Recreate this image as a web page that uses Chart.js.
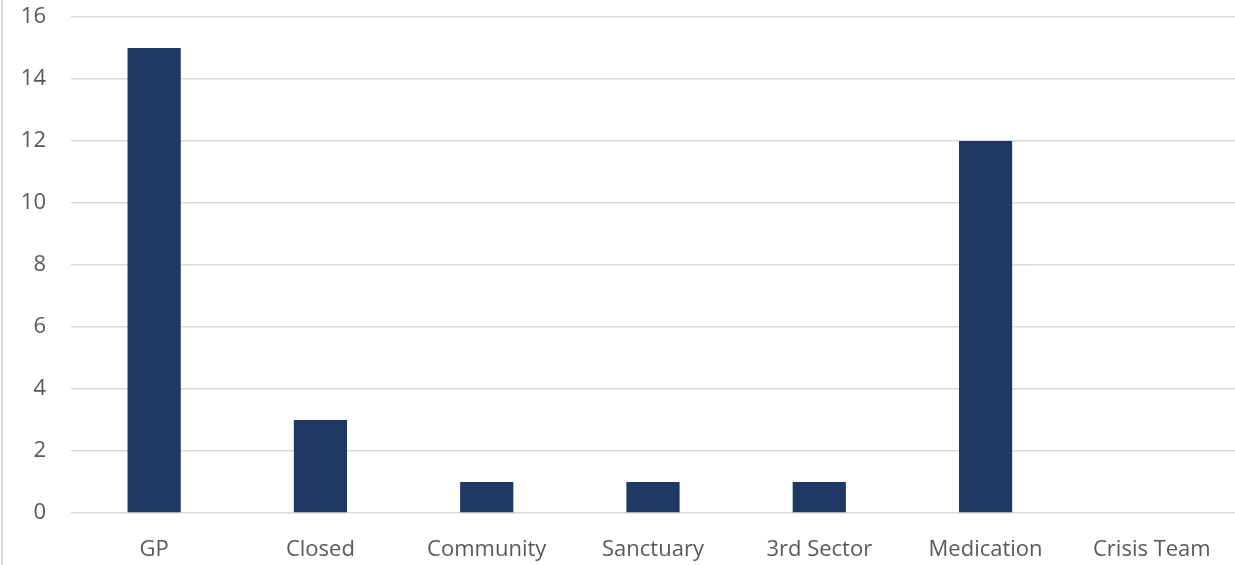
<!DOCTYPE html>
<html>
<head>
<meta charset="utf-8">
<script src="https://cdn.jsdelivr.net/npm/chart.js@4/dist/chart.umd.min.js"></script>
<style>
  html, body { margin: 0; padding: 0; background: #fff; }
  #wrap { position: relative; width: 1235px; height: 565px; }
  #wrap::before { content: ""; position: absolute; left: 1px; top: 0; bottom: 0; width: 2px; background: #d9d9d9; }
</style>
</head>
<body>
<div id="wrap"><canvas id="referrals" width="1235" height="565"></canvas></div>
<script>
const categories = ["GP", "Closed", "Community", "Sanctuary", "3rd Sector", "Medication", "Crisis Team"];
const counts = [15, 3, 1, 1, 1, 12, 0];
const yTicks = [0, 2, 4, 6, 8, 10, 12, 14, 16];

const labelFont = { family: "'Open Sans', 'Noto Sans', sans-serif", size: 22 };
const labelColor = "#595959";

const ctx = document.getElementById("referrals").getContext("2d");

new Chart(ctx, {
  type: "bar",
  data: {
    labels: categories,
    datasets: [{
      label: "Count",
      data: counts,
      backgroundColor: "#1f3864",
      borderWidth: 0,
      barPercentage: 0.32,
      categoryPercentage: 1,
    }],
  },
  options: {
    responsive: false,
    animation: false,
    layout: { padding: { top: 17, right: 0, left: 0, bottom: 0 } },
    plugins: {
      legend: { display: false },
      tooltip: { enabled: false },
    },
    scales: {
      x: {
        grid: { display: false },
        border: { display: false },
        ticks: { color: labelColor, font: labelFont, maxRotation: 0, padding: 16 },
        afterFit: (scale) => { scale.height = 52; scale.paddingLeft = 0; scale.paddingRight = 0; },
      },
      y: {
        min: 0,
        max: 16,
        afterBuildTicks: (scale) => { scale.ticks = yTicks.map((v) => ({ value: v })); },
        grid: { color: "#d9d9d9", lineWidth: 1.5, drawTicks: false },
        border: { display: false },
        ticks: { color: labelColor, font: labelFont, padding: 25 },
        afterFit: (scale) => { scale.width = 71; scale.paddingTop = 0; scale.paddingBottom = 0; },
      },
    },
  },
});
</script>
</body>
</html>
